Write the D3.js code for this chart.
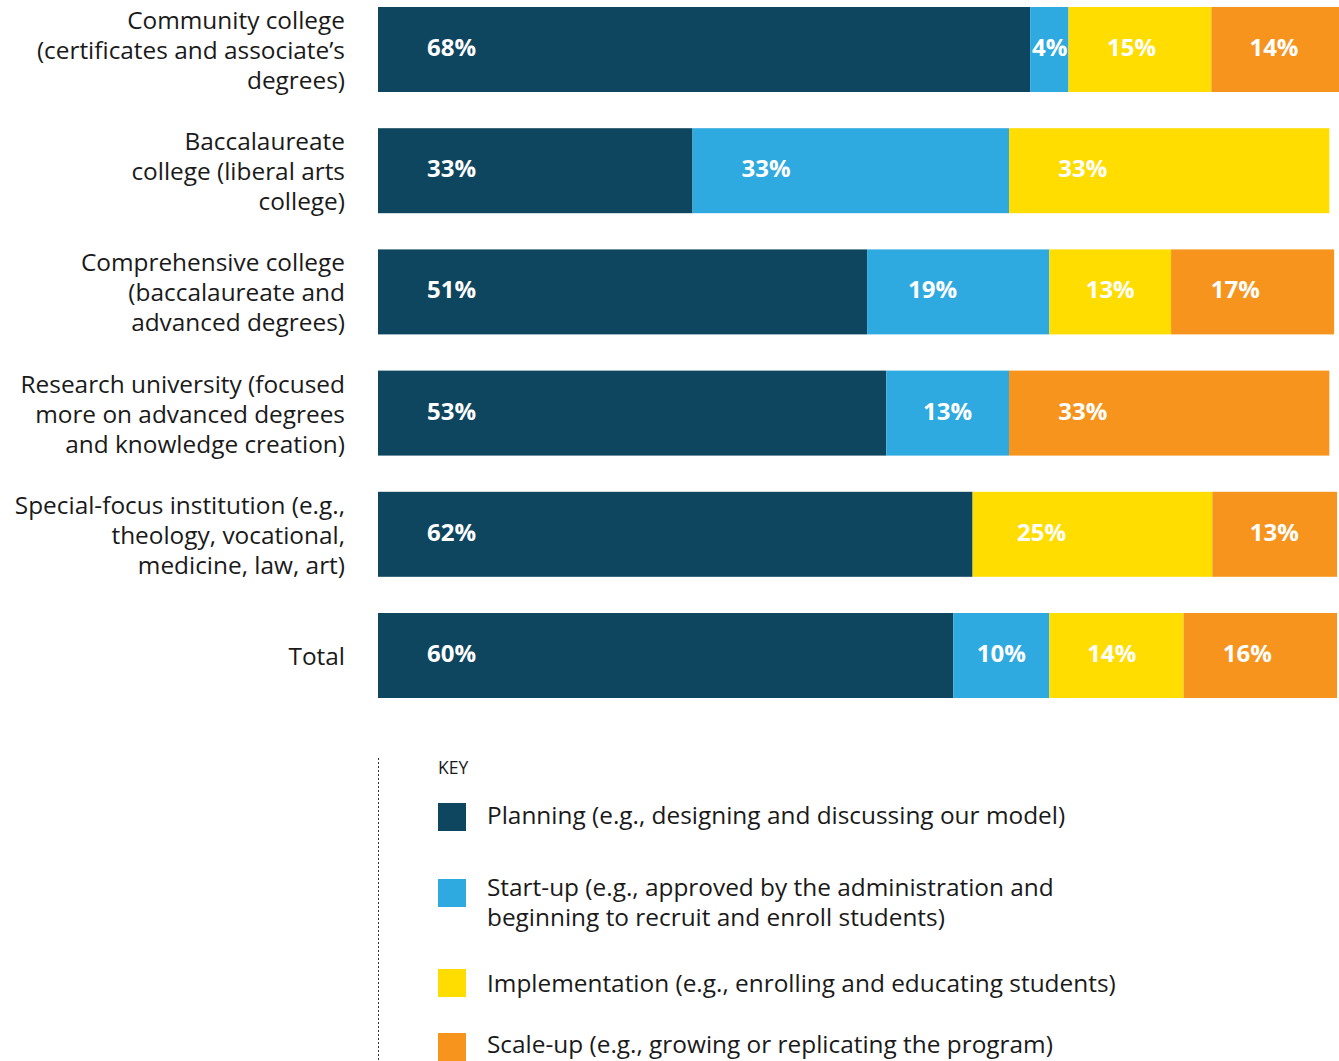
<!DOCTYPE html>
<html>
<head>
<meta charset="utf-8">
<script src="https://cdn.jsdelivr.net/npm/d3@7"></script>
<style>
  body { margin: 0; background: #fff; }
  svg { display: block; }
</style>
</head>
<body>
<div id="chart"></div>
<script>
// Data
//////////////////////////////////////////////////////////////////////
var categories = [
  ["Community college", "(certificates and associate\u2019s", "degrees)"],
  ["Baccalaureate", "college (liberal arts", "college)"],
  ["Comprehensive college", "(baccalaureate and", "advanced degrees)"],
  ["Research university (focused", "more on advanced degrees", "and knowledge creation)"],
  ["Special-focus institution (e.g.,", "theology, vocational,", "medicine, law, art)"],
  ["Total"]
];
var stages = ["Planning", "Start-up", "Implementation", "Scale-up"];
var planning       = [68,   32.8, 51,   53,   62, 60];
var startup        = [4,    33,   19,   12.8, 0,  10];
var implementation = [14.9, 33.4, 12.7, 0,    25, 14];
var scaleup        = [14,   0,    17,   33.4, 13, 16];
var legendLabels = [
  ["Planning (e.g., designing and discussing our model)"],
  ["Start-up (e.g., approved by the administration and", "beginning to recruit and enroll students)"],
  ["Implementation (e.g., enrolling and educating students)"],
  ["Scale-up (e.g., growing or replicating the program)"]
];

// Variables
//////////////////////////////////////////////////////////////////////
var width = 1339, height = 1061;
var colors = ["#0f465f", "#2eaae1", "#ffdd00", "#f7941e"];
var fontFamily = "'Open Sans', 'Noto Sans', sans-serif";

var rows = categories.map((c, i) => {
  var row = { id: i, lines: c };
  row.Planning = planning[i];
  row["Start-up"] = startup[i];
  row.Implementation = implementation[i];
  row["Scale-up"] = scaleup[i];
  return row;
});

var series = d3.stack().keys(stages)(rows);

var x = d3.scaleLinear().domain([0, 100]).range([378, 1337]);
var y = d3.scaleBand()
  .domain(rows.map(d => d.id))
  .range([7, 698])
  .paddingInner(0.2987)
  .paddingOuter(0);
var color = d3.scaleOrdinal().domain(stages).range(colors);

var svg = d3.select("#chart").append("svg")
  .attr("width", width)
  .attr("height", height)
  .attr("viewBox", [0, 0, width, height]);

// Bars
//////////////////////////////////////////////////////////////////////
var bh = y.bandwidth();

var seg = svg.append("g")
  .selectAll("g")
  .data(series)
  .join("g")
  .attr("fill", d => color(d.key))
  .selectAll("g")
  .data(d => d.filter(s => s[1] - s[0] > 0).map(s => Object.assign(s, { key: d.key })))
  .join("g");

seg.append("rect")
  .attr("x", d => x(d[0]))
  .attr("y", d => y(d.data.id))
  .attr("width", d => x(d[1]) - x(d[0]))
  .attr("height", bh);

seg.append("text")
  .attr("fill", "#fff")
  .attr("font-family", fontFamily)
  .attr("font-weight", 700)
  .attr("font-size", 24)
  .attr("dy", "0.35em")
  .attr("y", d => y(d.data.id) + bh / 2 - 2)
  .text(d => Math.round(d[1] - d[0]) + "%")
  .attr("x", function (d) {
    var w = x(d[1]) - x(d[0]);
    if (d.key === "Planning") return x(d[0]) + 49;
    var tw = this.getComputedTextLength();
    return x(d[0]) + Math.max(2, Math.min((w - tw) / 2, 30 + w * 0.06));
  });

// Category labels
//////////////////////////////////////////////////////////////////////
var lineH = 30;
svg.append("g")
  .attr("font-family", fontFamily)
  .attr("font-size", 24.4)
  .attr("fill", "#1a1a1a")
  .attr("text-anchor", "end")
  .selectAll("text")
  .data(rows)
  .join("text")
  .attr("x", 345)
  .attr("y", d => y(d.id) + bh / 2 - (d.lines.length - 1) * lineH / 2 + 1)
  .selectAll("tspan")
  .data(d => d.lines)
  .join("tspan")
  .attr("x", 345)
  .attr("dy", (d, i) => i === 0 ? "0.35em" : lineH)
  .text(d => d);

// Legend
//////////////////////////////////////////////////////////////////////
svg.append("line")
  .attr("x1", 378.5).attr("x2", 378.5)
  .attr("y1", 758).attr("y2", height)
  .attr("stroke", "#333")
  .attr("stroke-width", 1)
  .attr("stroke-dasharray", "2,2");

svg.append("text")
  .attr("x", 438)
  .attr("y", 774)
  .attr("font-family", fontFamily)
  .attr("font-size", 17.5)
  .attr("fill", "#1a1a1a")
  .text("KEY");

var legendY = [817, 893, 983, 1047];
var leg = svg.append("g")
  .selectAll("g")
  .data(stages)
  .join("g")
  .attr("transform", (d, i) => `translate(438,${legendY[i]})`);

leg.append("rect")
  .attr("x", 0).attr("y", -14)
  .attr("width", 28).attr("height", 28)
  .attr("fill", d => color(d));

leg.append("text")
  .attr("font-family", fontFamily)
  .attr("font-size", 24.4)
  .attr("fill", "#1a1a1a")
  .attr("y", (d, i) => [-2, -6, 0, -3][i])
  .selectAll("tspan")
  .data((d, i) => legendLabels[i])
  .join("tspan")
  .attr("x", 49)
  .attr("dy", (d, i) => i === 0 ? "0.35em" : lineH)
  .text(d => d);
</script>
</body>
</html>
